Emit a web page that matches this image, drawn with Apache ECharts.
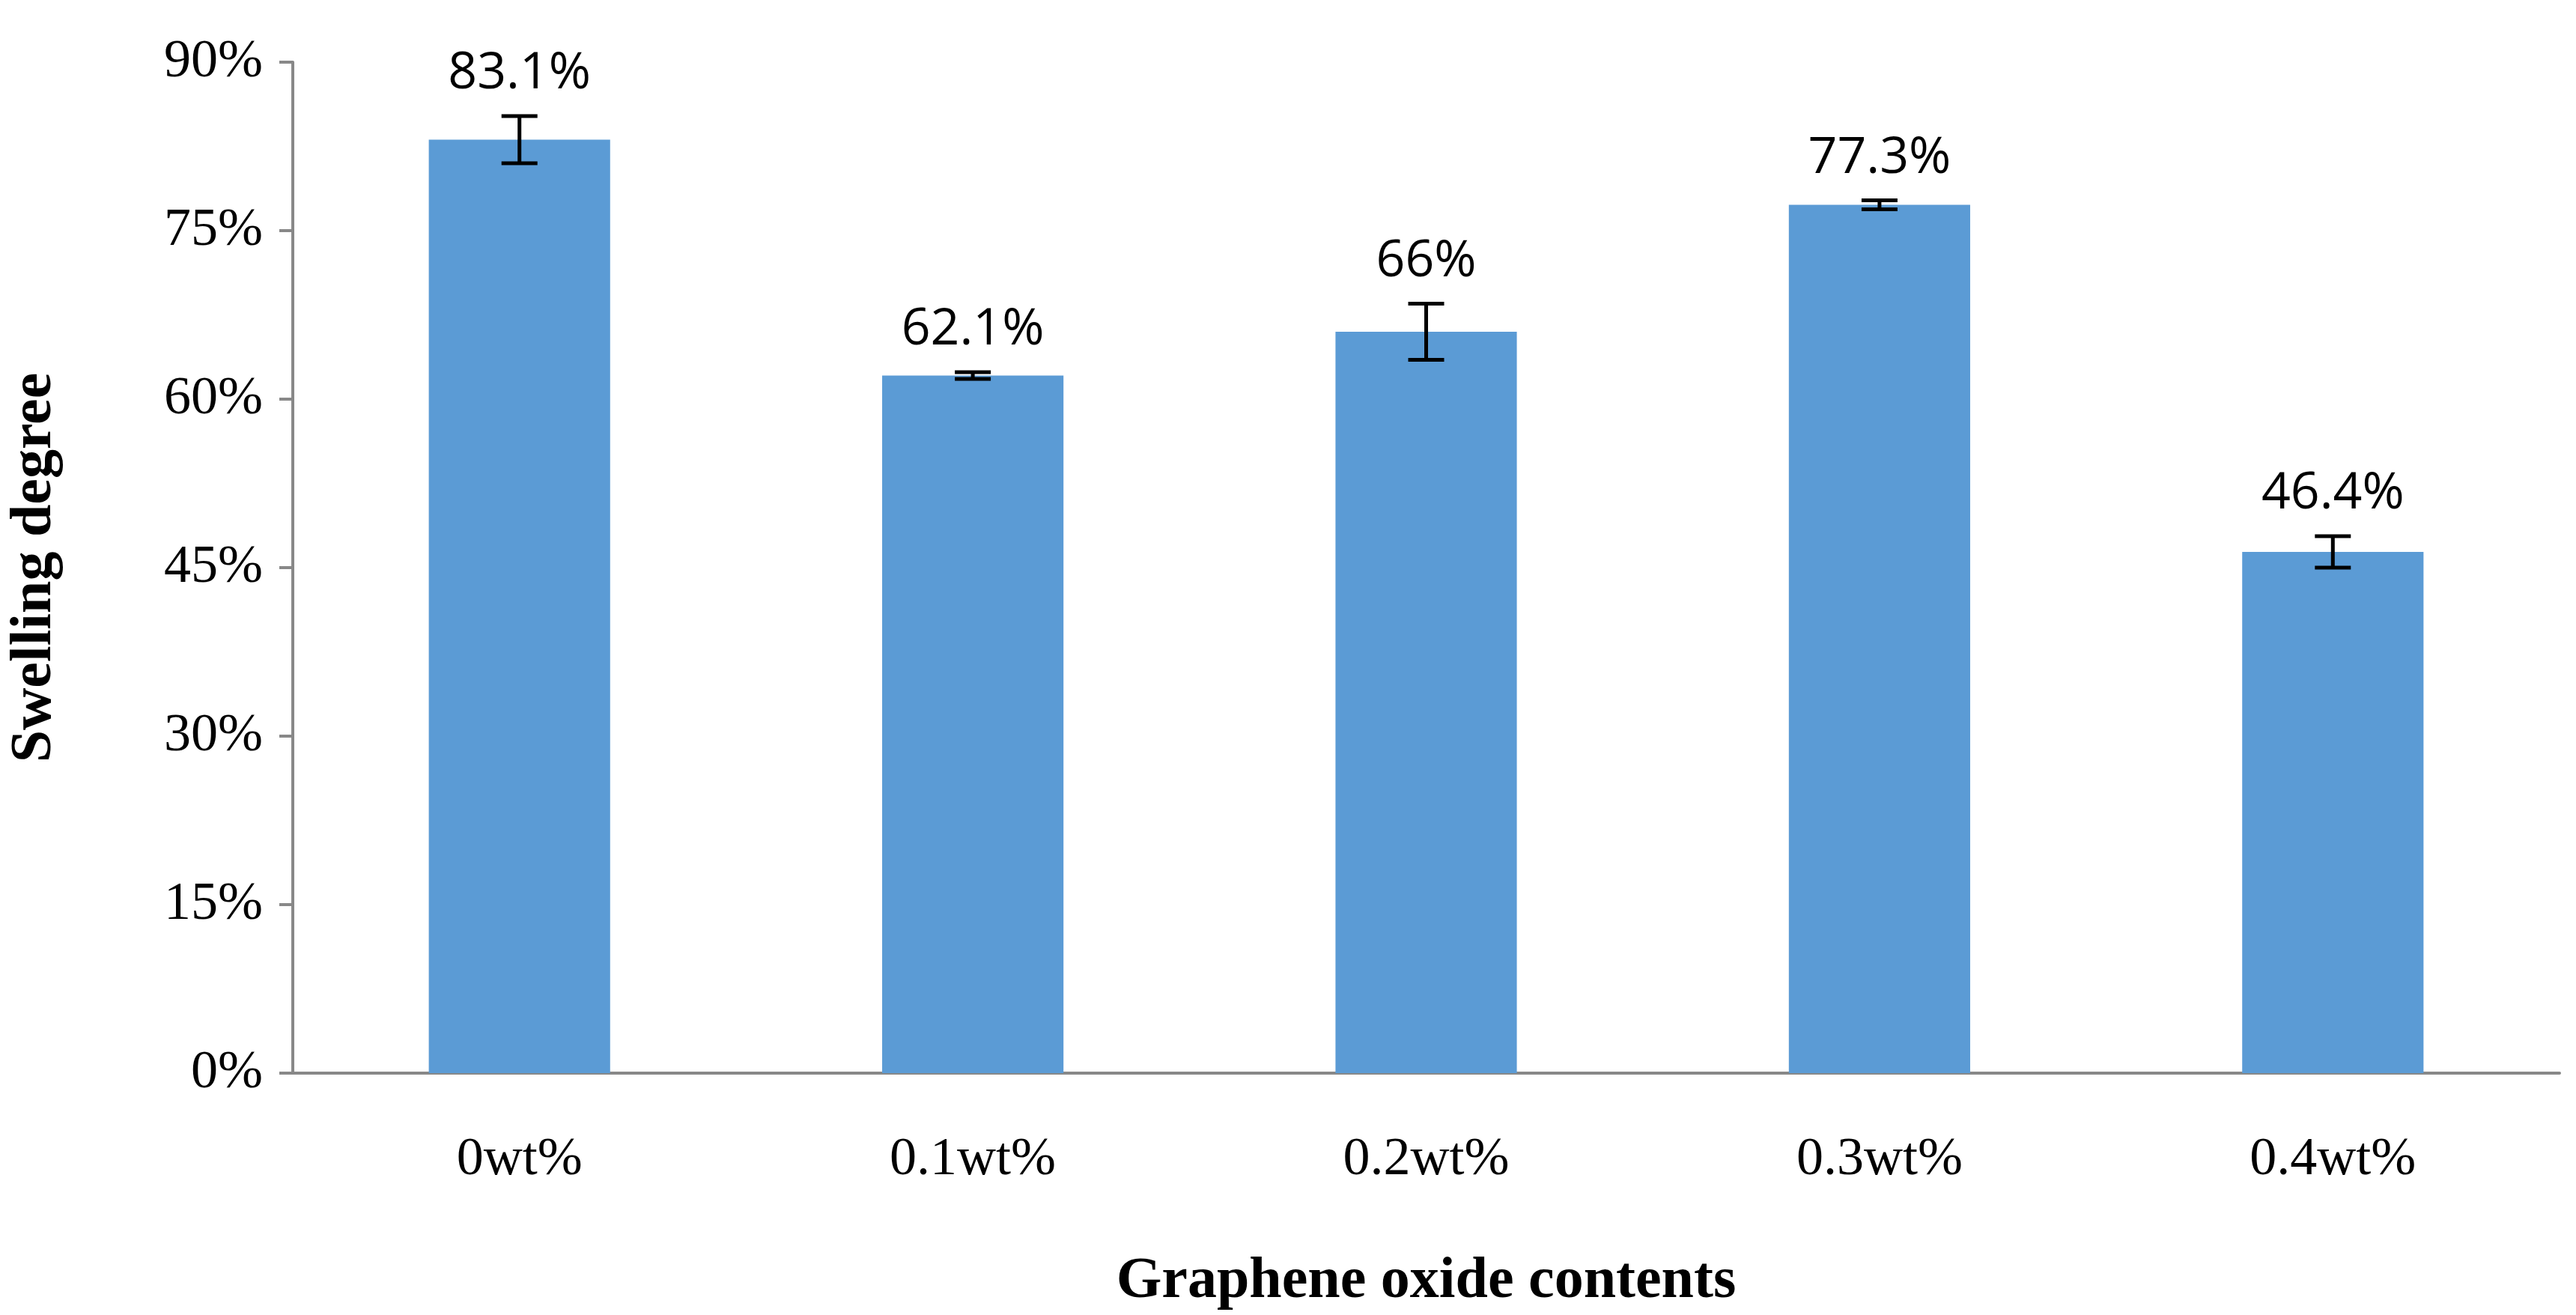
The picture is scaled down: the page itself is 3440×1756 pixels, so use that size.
<!DOCTYPE html>
<html>
<head>
<meta charset="utf-8">
<script src="https://cdn.jsdelivr.net/npm/echarts@6/dist/echarts.min.js"></script>
<style>html,body{margin:0;padding:0;background:#fff}#chart{width:3440px;height:1756px}</style>
</head>
<body>
<div id="chart"></div>
<script>
var categories = ['0wt%', '0.1wt%', '0.2wt%', '0.3wt%', '0.4wt%'];
var values = [83.1, 62.1, 66, 77.3, 46.4];
var errors = [2.1, 0.3, 2.5, 0.4, 1.4];
var yTicks = [0, 15, 30, 45, 60, 75, 90];

var chart = echarts.init(document.getElementById('chart'));
var serif = '"Liberation Serif", "DejaVu Serif", serif';

var errData = values.map(function (v, i) { return [i, v - errors[i], v + errors[i]]; });

var option = {
    animation: false,
    grid: {left: 384, right: 22, top: 83, bottom: 323},
    xAxis: {
        type: 'category',
        data: categories,
        name: 'Graphene oxide contents',
        nameLocation: 'middle',
        nameGap: 240,
        nameTextStyle: {fontFamily: serif, fontWeight: 'bold', fontSize: 78, color: '#000'},
        axisLine: {lineStyle: {color: '#888', width: 4}},
        axisTick: {show: false},
        axisLabel: {fontFamily: serif, fontSize: 72, color: '#000', margin: 80}
    },
    yAxis: {
        type: 'value',
        min: 0, max: 90, interval: 15,
        name: 'Swelling degree',
        nameLocation: 'middle',
        nameGap: 305,
        nameTextStyle: {fontFamily: serif, fontWeight: 'bold', fontSize: 78, color: '#000'},
        axisLine: {show: true, lineStyle: {color: '#888', width: 4}},
        axisTick: {show: true, inside: false, length: 18, lineStyle: {color: '#888', width: 4}},
        splitLine: {show: false},
        axisLabel: {fontFamily: serif, fontSize: 72, color: '#000', margin: 40,
            formatter: function (v) { return yTicks.indexOf(v) >= 0 ? v + '%' : ''; }}
    },
    series: [
        {
            type: 'bar',
            data: values,
            barWidth: '40%',
            itemStyle: {color: '#5b9bd5'},
            label: {show: false}
        },
        {
            type: 'custom',
            data: errData,
            z: 5,
            renderItem: function (params, api) {
                var x = api.value(0);
                var lo = api.coord([x, api.value(1)]);
                var hi = api.coord([x, api.value(2)]);
                var w = 24;
                var s = {stroke: '#000', lineWidth: 5};
                return {type: 'group', children: [
                    {type: 'line', shape: {x1: lo[0], y1: lo[1], x2: hi[0], y2: hi[1]}, style: s},
                    {type: 'line', shape: {x1: lo[0] - w, y1: lo[1], x2: lo[0] + w, y2: lo[1]}, style: s},
                    {type: 'line', shape: {x1: hi[0] - w, y1: hi[1], x2: hi[0] + w, y2: hi[1]}, style: s},
                    {type: 'text', style: {x: hi[0], y: hi[1] - 22, text: values[params.dataIndex] + '%',
                        textAlign: 'center', textVerticalAlign: 'bottom',
                        font: '68px "Open Sans", "Liberation Sans", sans-serif', fill: '#000'}}
                ]};
            }
        }
    ]
};
chart.setOption(option);
</script>
</body>
</html>
